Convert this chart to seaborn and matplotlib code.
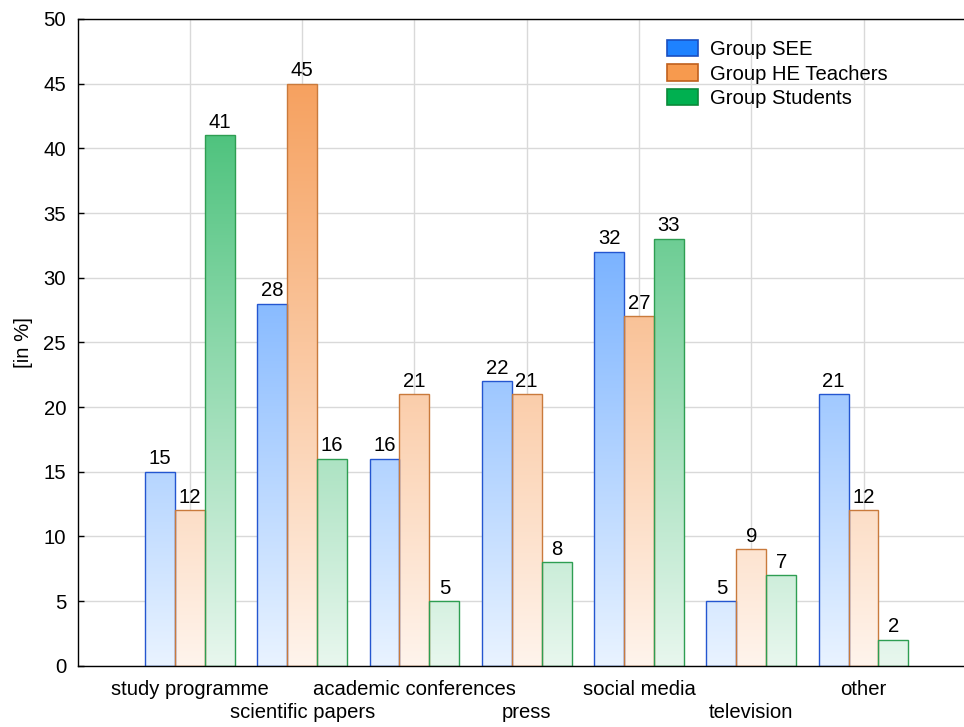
import numpy as np
import pandas as pd
import matplotlib
matplotlib.use("Agg")
import matplotlib.pyplot as plt
import seaborn as sns
from matplotlib.colors import LinearSegmentedColormap
from matplotlib.patches import Patch

# --- data -------------------------------------------------------------
categories = ["study programme", "scientific papers", "academic conferences",
              "press", "social media", "television", "other"]
groups = ["Group SEE", "Group HE Teachers", "Group Students"]
see = [15, 28, 16, 22, 32, 5, 21]
he_teachers = [12, 45, 21, 21, 27, 9, 12]
students = [41, 16, 5, 8, 33, 7, 2]
y_ticks = [0, 5, 10, 15, 20, 25, 30, 35, 40, 45, 50]

series = [see, he_teachers, students]
df = pd.DataFrame({
    "category": categories * len(groups),
    "group": np.repeat(groups, len(categories)),
    "value": see + he_teachers + students,
})

# --- styling ----------------------------------------------------------
legend_face = ["#1E82FF", "#F79A4E", "#00B050"]
legend_edge = ["#1A4FC0", "#C0601C", "#0A8A3A"]
bar_edge = ["#2456D0", "#C97A3C", "#2E9E52"]
grad_top = ["#3D8FFF", "#F59850", "#2EB866"]
grad_bottom = ["#E9F3FF", "#FFF4EC", "#E8F7EE"]
FS = 14.6

sns.set_theme(style="white")
plt.rcParams["font.family"] = ["Liberation Sans", "DejaVu Sans"]
plt.rcParams["text.color"] = "black"
plt.rcParams["axes.labelcolor"] = "black"
plt.rcParams["xtick.labelcolor"] = "black"
plt.rcParams["ytick.labelcolor"] = "black"

fig = plt.figure(figsize=(9.64, 7.27), dpi=100)
W, H = 964, 727
ax = fig.add_axes([78 / W, (H - 665.7) / H, (W - 78) / W, (665.7 - 19) / H])

sns.barplot(data=df, x="category", y="value", hue="group",
            order=categories, hue_order=groups, palette=legend_face,
            saturation=1, width=0.8, errorbar=None, legend=False, ax=ax)

# vertical colour gradient inside every bar, tied to the value axis
ymax = 50
grad = np.linspace(0, 1, 256).reshape(-1, 1)
for i, cont in enumerate(ax.containers):
    cmap = LinearSegmentedColormap.from_list(f"g{i}", [grad_bottom[i], grad_top[i]])
    for patch in cont.patches:
        x0 = patch.get_x()
        w = patch.get_width()
        patch.set_facecolor("none")
        patch.set_edgecolor(bar_edge[i])
        patch.set_linewidth(1.0)
        patch.set_zorder(2)
        im = ax.imshow(grad, extent=[x0, x0 + w, 0, ymax], origin="lower",
                       aspect="auto", cmap=cmap, vmin=0, vmax=1,
                       interpolation="bilinear", zorder=1.5)
        im.set_clip_path(patch)
    ax.bar_label(cont, labels=[str(v) for v in series[i]], padding=2.5,
                 fontsize=FS, color="black")

# --- axes -------------------------------------------------------------
ax.set_xlim(-0.997, 6.895)
ax.set_ylim(0, ymax)
ax.set_yticks(y_ticks)
ax.set_yticklabels([str(t) for t in y_ticks], fontsize=FS)

# categories alternate between two label rows
even = list(range(0, len(categories), 2))
odd = list(range(1, len(categories), 2))
ax.set_xticks(even)
ax.set_xticklabels([categories[k] for k in even], fontsize=FS)
ax.set_xticks(odd, minor=True)
ax.set_xticklabels([categories[k] for k in odd], minor=True, fontsize=FS)
ax.set_xlabel("")
ax.set_ylabel("[in %]", fontsize=FS, labelpad=7.5)

ax.set_axisbelow(True)
ax.grid(True, which="major", color="#D9D9D9", linewidth=1.0)
ax.grid(True, which="minor", axis="x", color="#D9D9D9", linewidth=1.0)
for side in ["left", "top", "bottom"]:
    ax.spines[side].set_visible(True)
    ax.spines[side].set_color("black")
    ax.spines[side].set_linewidth(1.0)
ax.spines["right"].set_visible(False)

ax.tick_params(axis="x", which="major", bottom=True, direction="in", length=4,
               width=1, color="black", pad=10)
ax.tick_params(axis="x", which="minor", bottom=True, direction="in", length=4,
               width=1, color="black", pad=26.5)
ax.tick_params(axis="y", left=True, direction="in", length=4, width=1,
               color="black", pad=8.6)

handles = [Patch(facecolor=legend_face[i], edgecolor=legend_edge[i], linewidth=1.2)
           for i in range(len(groups))]
ax.legend(handles, groups, loc="upper left",
          bbox_to_anchor=(667 / W, 1 - 40 / H), bbox_transform=fig.transFigure,
          frameon=False, borderpad=0, borderaxespad=0, fontsize=FS,
          handlelength=1.55, handleheight=0.87, handletextpad=0.55,
          labelspacing=0.25)

fig.savefig("out.png", dpi=100)
